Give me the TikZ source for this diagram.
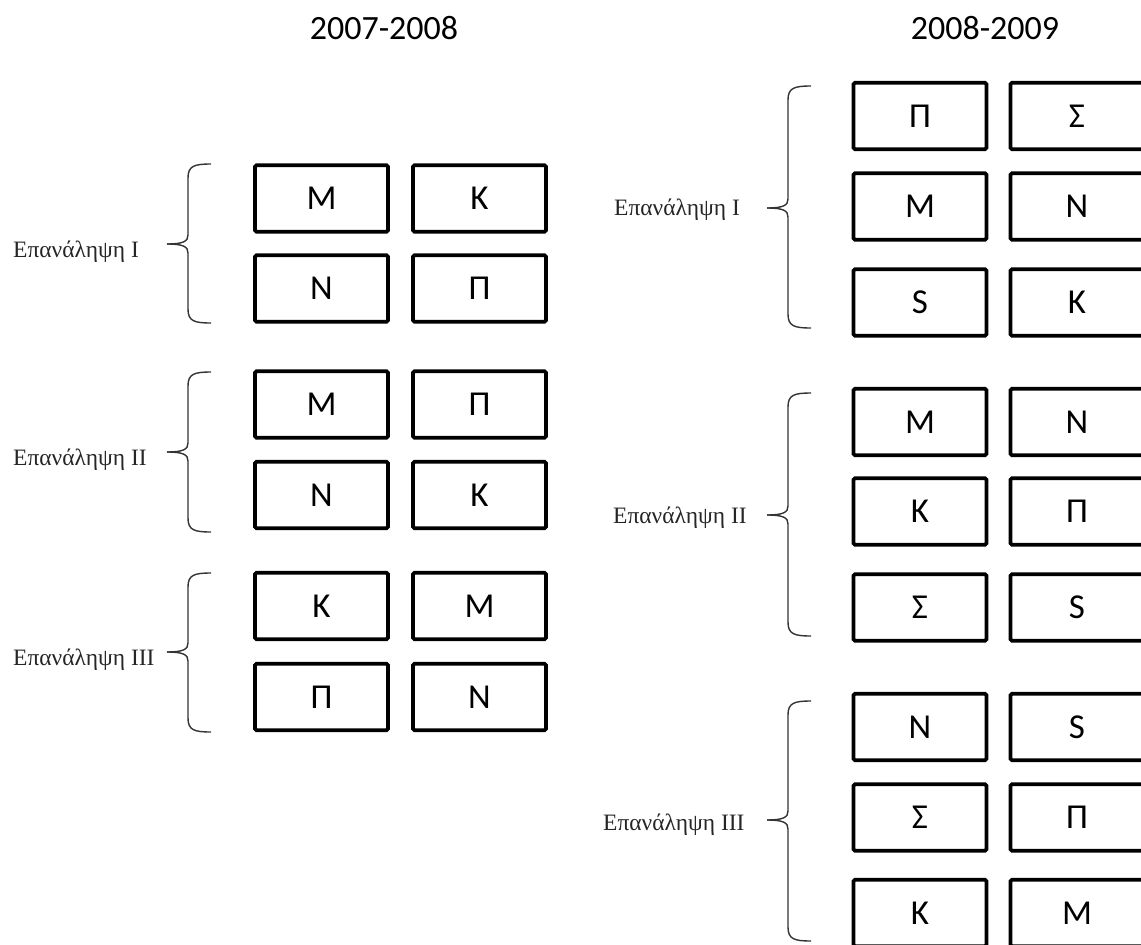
\documentclass[tikz,border=0pt]{standalone}
\usepackage{fontspec}
\setmainfont{Carlito}
\newfontfamily\lblfont{Liberation Serif}
\newcommand\mybrace[4]{%
  \draw[bracestyle] ({#1+23},{#2}) .. controls ({#1+6},{#2}) and ({#1},{#2+2}) .. ({#1},{#2+14})
     -- ({#1},{#3-9}) .. controls ({#1},{#3-3}) and ({#1-4},{#3}) .. ({#1-21},{#3});
  \draw[bracestyle] ({#1+23},{#4}) .. controls ({#1+6},{#4}) and ({#1},{#4-2}) .. ({#1},{#4-14})
     -- ({#1},{#3+9}) .. controls ({#1},{#3+3}) and ({#1-4},{#3}) .. ({#1-21},{#3});
}
\begin{document}
\begin{tikzpicture}[x=1pt,y=-1pt,
  cell/.style={draw, line width=3.6pt, rounded corners=1.5pt, minimum width=133pt,
    minimum height=66.5pt, inner sep=0pt, font=\fontsize{35}{35}\selectfont},
  bracestyle/.style={line width=1.4pt, color=black!80},
  lbl/.style={anchor=base west, inner sep=0pt, font=\lblfont\fontsize{23.5}{23.5}\selectfont, text=black!85},
  ttl/.style={anchor=base, inner sep=0pt, font=\fontsize{34}{34}\selectfont}]
\useasboundingbox (0,0) rectangle (1141,945);
\fill[white] (0,0) rectangle (1141,945);

% titles
\node[ttl] (t1) at (384,39) {2007-2008};
\node[ttl] (t2) at (985,39) {2008-2009};

% left side boxes
\node[cell] (a11) at (321.5,198.5) {M};
\node[cell] (a12) at (479.5,198.5) {K};
\node[cell] (a13) at (321.5,288.5) {N};
\node[cell] (a14) at (479.5,288.5) {Π};
\node[cell] (a21) at (321.5,404.5) {M};
\node[cell] (a22) at (479.5,404.5) {Π};
\node[cell] (a23) at (321.5,495) {N};
\node[cell] (a24) at (479.5,495) {K};
\node[cell] (a31) at (321.5,606) {K};
\node[cell] (a32) at (479.5,606) {M};
\node[cell] (a33) at (321.5,697) {Π};
\node[cell] (a34) at (479.5,697) {N};

% right side boxes
\node[cell] (b11) at (920,116) {Π};
\node[cell] (b12) at (1077,116) {Σ};
\node[cell] (b13) at (920,206.5) {M};
\node[cell] (b14) at (1077,206.5) {N};
\node[cell] (b15) at (920,302.5) {S};
\node[cell] (b16) at (1077,302.5) {K};
\node[cell] (b21) at (920,422) {M};
\node[cell] (b22) at (1077,422) {N};
\node[cell] (b23) at (920,511.5) {K};
\node[cell] (b24) at (1077,511.5) {Π};
\node[cell] (b25) at (920,607.5) {Σ};
\node[cell] (b26) at (1077,607.5) {S};
\node[cell] (b31) at (920,727) {N};
\node[cell] (b32) at (1077,727) {S};
\node[cell] (b33) at (920,817.5) {Σ};
\node[cell] (b34) at (1077,817.5) {Π};
\node[cell] (b35) at (920,913) {K};
\node[cell] (b36) at (1077,913) {M};

% braces
\mybrace{188}{164}{244}{323}
\mybrace{188}{372}{452}{532}
\mybrace{188}{573}{652}{732}
\mybrace{788}{86}{208}{328}
\mybrace{788}{393}{515}{636}
\mybrace{788}{701}{820}{941}

% labels
\node[lbl] (la1) at (13,257) {Επανάληψη I};
\node[lbl] (la2) at (13,465) {Επανάληψη II};
\node[lbl] (la3) at (13,665) {Επανάληψη III};
\node[lbl] (lb1) at (614,215) {Επανάληψη I};
\node[lbl] (lb2) at (613,523) {Επανάληψη II};
\node[lbl] (lb3) at (603,830) {Επανάληψη III};
\end{tikzpicture}
\end{document}
